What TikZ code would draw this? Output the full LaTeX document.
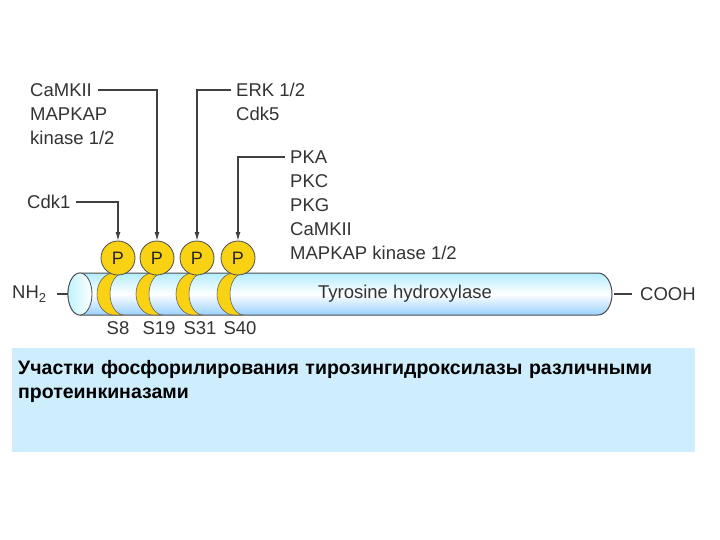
\documentclass[tikz,border=0pt]{standalone}
\usepackage{fontspec}
\setmainfont{Liberation Sans}
\usetikzlibrary{arrows.meta}
\definecolor{capbg}{RGB}{206,238,254}
\definecolor{yel}{RGB}{250,210,20}
\begin{document}
\begin{tikzpicture}[x=1pt,y=-1pt,
  lab/.style={anchor=west,inner sep=0,font=\fontsize{18.5}{18.5}\selectfont,text=black!80},
  conn/.style={draw=black!75,line width=1.3pt,-{Latex[length=9pt,width=5pt]}},
  pdisc/.style={fill=yel,draw=black!70,line width=0.8pt},
  ptxt/.style={inner sep=0,font=\fontsize{18}{18}\selectfont,text=black!85},
  cres/.style={fill=yel,draw=black!60,line width=0.6pt}]
\useasboundingbox (0,0) rectangle (720,540);
% cylinder
\path[top color=blue!25!cyan!30,bottom color=blue!45!cyan!40,middle color=white,draw=black!70,line width=1pt]
  (80,273) -- (598,273) arc[start angle=-90,end angle=90,x radius=14,y radius=21] -- (80,315) arc[start angle=90,end angle=270,x radius=12,y radius=21] -- cycle;
\path[left color=blue!20!cyan!25,right color=white,draw=black!70,line width=0.8pt] (80,294) ellipse[x radius=12,y radius=21];
% crescents
\foreach \x in {114,153,193,234}{
  \path[cres] (\x,273) arc[start angle=-90,end angle=-270,x radius=17,y radius=21]
   -- (\x+10,315) arc[start angle=90,end angle=270,x radius=14,y radius=21] -- cycle;
}
\foreach \i/\x in {1/118,2/157,3/197,4/238}{
  \path[pdisc] (\x,258) circle[radius=17];
  \node[ptxt] (p\i) at (\x,258) {P};
  \coordinate (t\i) at (\x,241);
}
% labels
\node[lab] (camk) at (30,90) {CaMKII};
\node[lab] at (30,114) {MAPKAP};
\node[lab] at (30,138) {kinase 1/2};
\node[lab] (cdk1) at (27,202) {Cdk1};
\node[lab] (erk) at (236,90) {ERK 1/2};
\node[lab] at (236,114) {Cdk5};
\node[lab] (pka) at (290,157) {PKA};
\node[lab] at (290,181) {PKC};
\node[lab] at (290,205) {PKG};
\node[lab] at (290,229) {CaMKII};
\node[lab] at (290,253) {MAPKAP kinase 1/2};
\node[lab,anchor=center] at (405,294) {Tyrosine hydroxylase};
\node[lab] (nh) at (12,294) {NH\raisebox{-4pt}{\fontsize{13}{13}\selectfont 2}};
\node[lab] (cooh) at (640,294) {COOH};
\foreach \t/\x in {S8/118,S19/159,S31/200,S40/240}
  \node[lab,anchor=center] at (\x,328) {\t};
\draw[conn] (cdk1.east) ++(5,0) -| (t1);
\draw[conn] (camk.east) ++(6,0) -| (t2);
\draw[conn] (erk.west) ++(-5,0) -| (t3);
\draw[conn] (pka.west) ++(-5,0) -| (t4);
\draw[black!75,line width=1.3pt] (57,294) -- (68,294) (614,294) -- (632,294);
% caption box
\fill[capbg] (12,348) rectangle (695,452);
\node[anchor=north west,align=left,inner sep=0,text width=670pt,font=\fontsize{19.5}{24}\selectfont\bfseries] (cap) at (18,360)
 {Участки фосфорилирования тирозингидроксилазы различными\\протеинкиназами};
\end{tikzpicture}
\end{document}
